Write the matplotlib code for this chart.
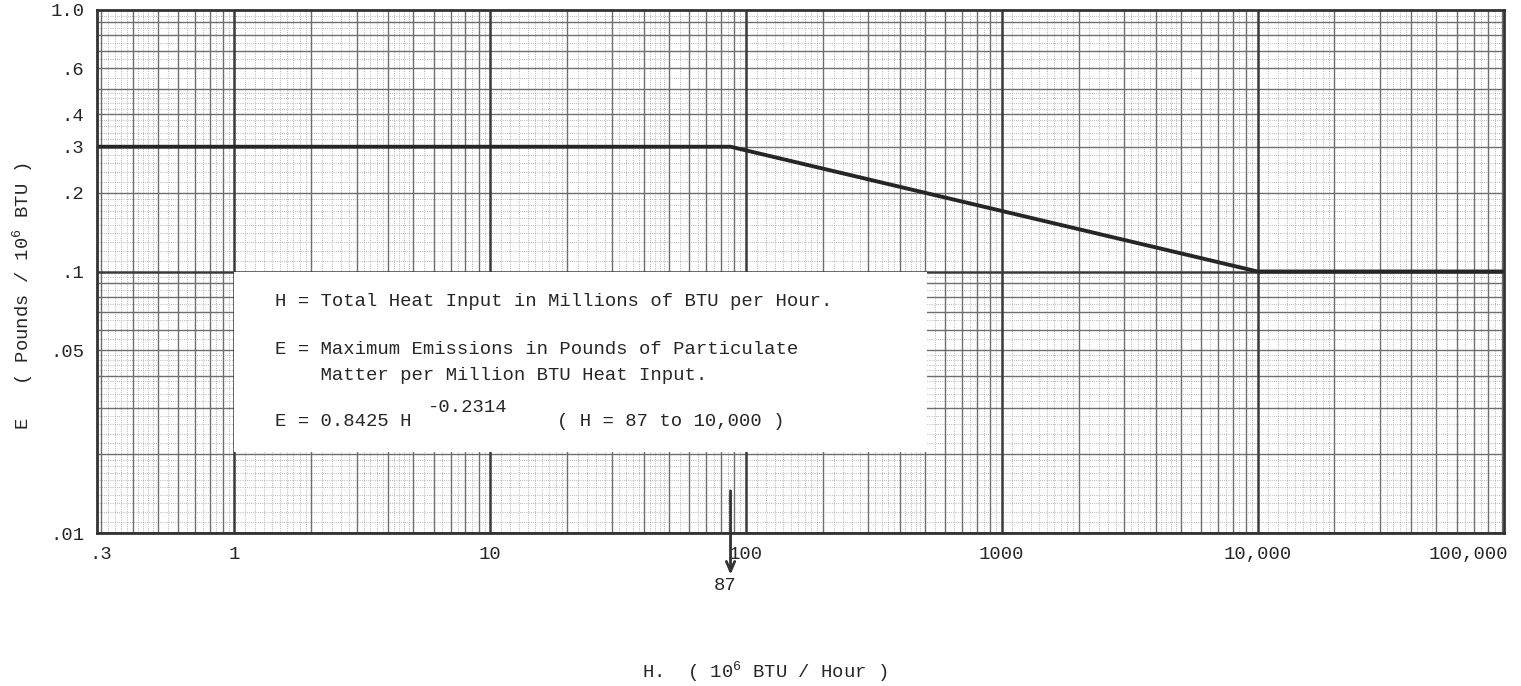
"""Allowable particulate emissions vs. total heat input (log-log chart)."""

import numpy as np
import matplotlib
matplotlib.use("Agg")
import matplotlib.pyplot as plt
from matplotlib.patches import Rectangle
from matplotlib.transforms import blended_transform_factory

# emission limit curve
heat_input = [0.29, 87, 10000, 92000]          # H, 10^6 BTU / hour
emission_limit = [0.3, 0.3, 0.1, 0.1]          # E, pounds / 10^6 BTU
breakpoint_h = 87

x_ticks = [0.3, 1, 10, 100, 1000, 10000]
x_tick_labels = [".3", "1", "10", "100", "1000", "10,000"]
y_ticks = [1.0, 0.6, 0.4, 0.3, 0.2, 0.1, 0.05, 0.01]
y_tick_labels = ["1.0", ".6", ".4", ".3", ".2", ".1", ".05", ".01"]

box_lines = [
    "H = Total Heat Input in Millions of BTU per Hour.",
    "E = Maximum Emissions in Pounds of Particulate",
    "    Matter per Million BTU Heat Input.",
]

W, H = 1521, 686
FONT = "Liberation Mono"
INK = "#262626"
FS = 13.6


def fx(px):
    return px / W


def fy(py):
    return 1 - py / H


fig = plt.figure(figsize=(W / 100, H / 100), dpi=100)
ax = fig.add_axes([fx(97), fy(533), (1504 - 97) / W, (533 - 10) / H])
ax.set_xscale("log")
ax.set_yscale("log")
ax.set_xlim(0.29, 92000)
ax.set_ylim(0.01, 1.0)

# graph paper: decade lines, 2..9 lines and fine dotted subdivisions
fine = np.concatenate([np.arange(1.1, 2.0, 0.1), np.arange(2.2, 5.0, 0.2), np.arange(5.5, 10, 0.5)])
decades_x = [10.0 ** k for k in range(-1, 5)]
decades_y = [10.0 ** k for k in range(-2, 0)]
for dec in decades_x:
    ax.vlines([dec * f for f in fine], 0.01, 1.0, colors="#a0a0a0", lw=0.6,
              linestyles=(0, (1, 1.6)), zorder=0.3)
    ax.vlines([dec * m for m in range(2, 10)], 0.01, 1.0, colors="#6e6e6e", lw=1.0, zorder=0.4)
    ax.vlines([dec], 0.01, 1.0, colors="#3a3a3a", lw=1.8, zorder=0.5)
for dec in decades_y:
    ax.hlines([dec * f for f in fine], 0.29, 92000, colors="#a0a0a0", lw=0.6,
              linestyles=(0, (1, 1.6)), zorder=0.3)
    ax.hlines([dec * m for m in range(2, 10)], 0.29, 92000, colors="#6e6e6e", lw=1.0, zorder=0.4)
    ax.hlines([dec], 0.29, 92000, colors="#3a3a3a", lw=1.8, zorder=0.5)

# white panel holding the definitions
ax.add_patch(Rectangle((1, 0.0204), 510 - 1, 0.1 - 0.0204, facecolor="white",
                       edgecolor="none", zorder=1))

ax.plot(heat_input, emission_limit, color="#262626", lw=2.8, zorder=3,
        solid_joinstyle="miter")

for s in ax.spines.values():
    s.set_linewidth(2.0)
    s.set_color("#333333")
    s.set_zorder(4)

ax.xaxis.set_minor_locator(matplotlib.ticker.NullLocator())
ax.yaxis.set_minor_locator(matplotlib.ticker.NullLocator())
ax.set_xticks(x_ticks, x_tick_labels)
ax.set_yticks(y_ticks, y_tick_labels)
ax.tick_params(length=0, labelsize=FS, labelcolor=INK)
ax.tick_params(axis="x", pad=9.5)
ax.tick_params(axis="y", pad=9)
for lab in ax.get_xticklabels() + ax.get_yticklabels():
    lab.set_family(FONT)
ax.text(1.003, -0.042, "100,000", transform=ax.transAxes, ha="right", va="center",
        fontsize=FS, family=FONT, color=INK)

# arrow marking the 87 breakpoint
trans = blended_transform_factory(ax.transData, ax.transAxes)
ax.annotate("", xy=(breakpoint_h, -0.085), xytext=(breakpoint_h, 0.086),
            xycoords=trans, textcoords=trans,
            arrowprops=dict(arrowstyle="->,head_length=0.7,head_width=0.3",
                            color="#333333", lw=2.0), annotation_clip=False, zorder=5)
ax.annotate("87", xy=(breakpoint_h, -0.1), xycoords=trans, xytext=(-4, 0),
            textcoords="offset points", ha="center", va="center",
            fontsize=FS, family=FONT, color=INK, annotation_clip=False)

# definitions text
fig.text(fx(275), fy(302), box_lines[0], fontsize=FS, family=FONT, color=INK, va="center")
fig.text(fx(275), fy(350), box_lines[1], fontsize=FS, family=FONT, color=INK, va="center")
fig.text(fx(275), fy(375), box_lines[2], fontsize=FS, family=FONT, color=INK, va="center")
fig.text(fx(275), fy(422), "E = 0.8425 H", fontsize=FS, family=FONT, color=INK, va="center")
fig.text(fx(428), fy(408), "-0.2314", fontsize=FS, family=FONT, color=INK, va="center")
fig.text(fx(557), fy(422), "( H = 87 to 10,000 )", fontsize=FS, family=FONT, color=INK,
         va="center")

# axis titles
fig.text(fx(765), fy(672), r"H.  ( $\mathregular{10^6}$ BTU / Hour )", fontsize=FS,
         family=FONT, color=INK, ha="center", va="center")
fig.text(fx(23), fy(296), r"E   ( Pounds / $\mathregular{10^6}$ BTU )", fontsize=FS,
         family=FONT, color=INK, ha="center", va="center", rotation=90)

fig.savefig("out.png", dpi=100, facecolor="white")
